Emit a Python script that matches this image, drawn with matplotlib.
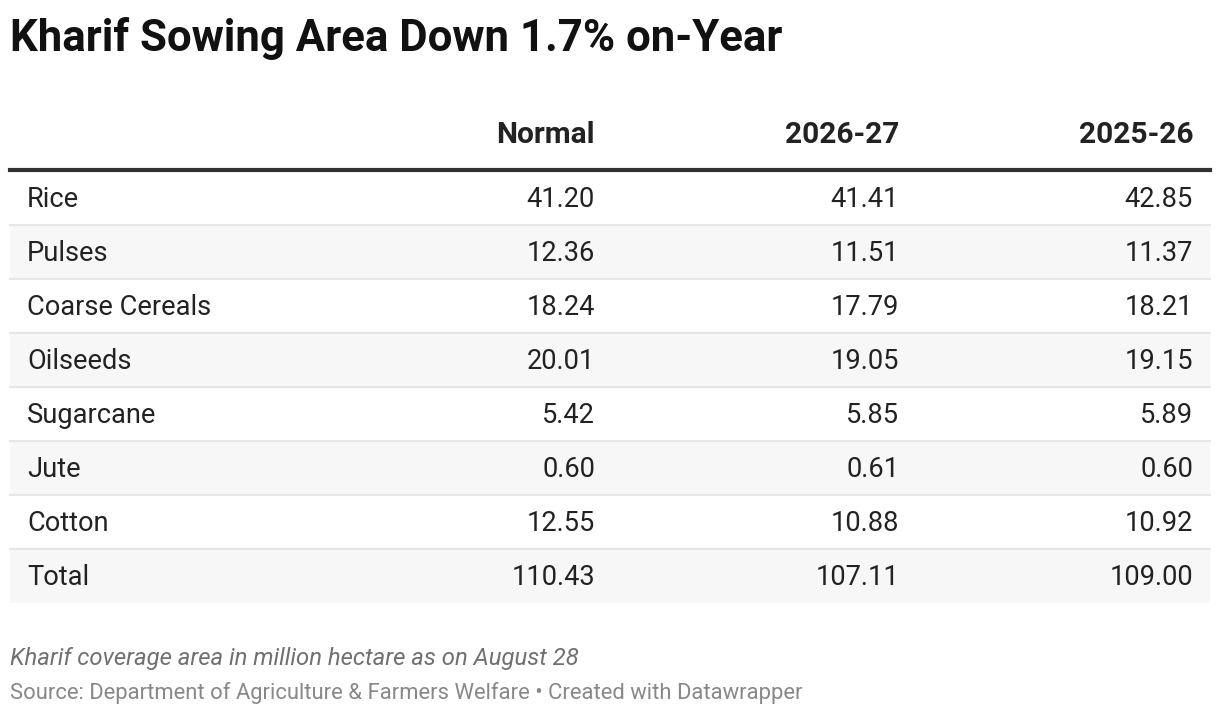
import matplotlib.pyplot as plt
from matplotlib.patches import Rectangle
from matplotlib.lines import Line2D

crops = ['Rice', 'Pulses', 'Coarse Cereals', 'Oilseeds', 'Sugarcane', 'Jute', 'Cotton', 'Total']
columns = ['Normal', '2026-27', '2025-26']
normal = ['41.20', '12.36', '18.24', '20.01', '5.42', '0.60', '12.55', '110.43']
y2026 = ['41.41', '11.51', '17.79', '19.05', '5.85', '0.61', '10.88', '107.11']
y2025 = ['42.85', '11.37', '18.21', '19.15', '5.89', '0.60', '10.92', '109.00']

plt.rcParams['font.family'] = ['Roboto', 'DejaVu Sans']
W, H = 1220, 716
fig = plt.figure(figsize=(12.2, 7.16), dpi=100)
ax = fig.add_axes([0, 0, 1, 1])
ax.set_xlim(0, W)
ax.set_ylim(H, 0)
ax.axis('off')

ax.text(10, 38, 'Kharif Sowing Area Down 1.7% on-Year', fontsize=31.5, fontweight='bold',
        color='#111111', va='center', ha='left')

col_x = [595, 899, 1193]
for cx, name in zip(col_x, columns):
    ax.text(cx, 135, name, fontsize=21.5, fontweight='bold', color='#222222', ha='right', va='center')
ax.add_line(Line2D([10, 1210], [169.5, 169.5], color='#333333', lw=3))

top, rh = 171, 54
for i, crop in enumerate(crops):
    y0 = top + i * rh
    if i % 2 == 1:
        ax.add_patch(Rectangle((10, y0), 1200, rh, color='#f7f7f7', lw=0))
    if i > 0:
        ax.add_line(Line2D([10, 1210], [y0, y0], color='#e6e6e6', lw=1.5))
    yc = y0 + rh / 2 + 1.5
    ax.text(27, yc, crop, fontsize=19.6, color='#222222', ha='left', va='center')
    for cx, vals in zip(col_x, [normal, y2026, y2025]):
        ax.text(cx, yc, vals[i], fontsize=19.6, color='#222222', ha='right', va='center')

ax.text(10, 658, 'Kharif coverage area in million hectare as on August 28', fontsize=17.2,
        style='italic', color='#707070', ha='left', va='center')
ax.text(10, 693, 'Source: Department of Agriculture & Farmers Welfare \u2022 Created with Datawrapper',
        fontsize=15.8, color='#888888', ha='left', va='center')

fig.savefig('out.png', dpi=100)
